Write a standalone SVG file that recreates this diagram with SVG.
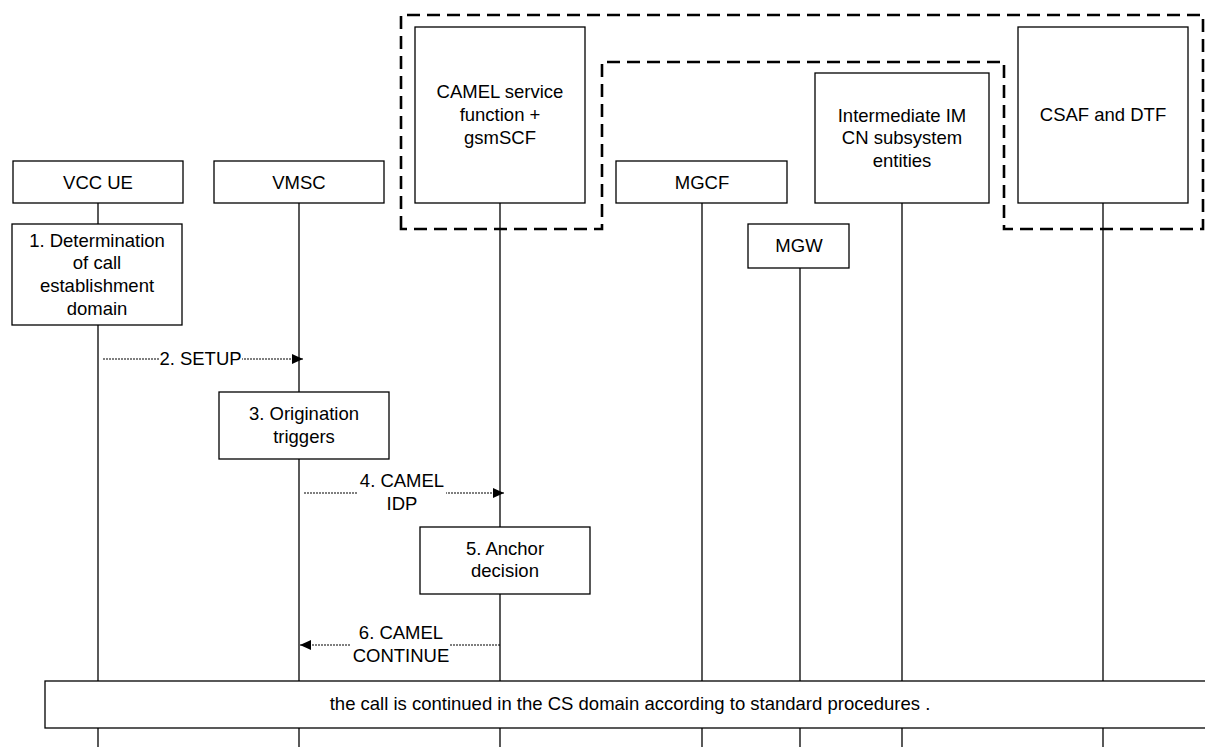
<svg xmlns="http://www.w3.org/2000/svg" width="1205" height="747" viewBox="0 0 1205 747">
<defs>
<style>
.box{fill:#fff;stroke:#000;stroke-width:1.3}
.life{stroke:#000;stroke-width:1.3;fill:none}
.msg{stroke:#000;stroke-width:1.2;stroke-dasharray:2 1;fill:none}
.grp{fill:none;stroke:#000;stroke-width:2.6;stroke-dasharray:13 7}
text{font-family:"Liberation Sans",Arial,sans-serif;font-size:18.5px;fill:#000;text-anchor:middle}
</style>
<marker id="ah" markerWidth="11" markerHeight="10" refX="11" refY="5" orient="auto" markerUnits="userSpaceOnUse">
<path d="M0,0 L11,5 L0,10 Z" fill="#000"/>
</marker>
</defs>
<rect width="1205" height="747" fill="#fff"/>
<g id="lifelines">
<line class="life" x1="98" y1="203" x2="98" y2="747"/>
<line class="life" x1="299" y1="203" x2="299" y2="747"/>
<line class="life" x1="500" y1="203" x2="500" y2="747"/>
<line class="life" x1="702" y1="203" x2="702" y2="747"/>
<line class="life" x1="800" y1="268" x2="800" y2="747"/>
<line class="life" x1="902" y1="203" x2="902" y2="747"/>
<line class="life" x1="1103" y1="203" x2="1103" y2="747"/>
</g>
<g id="group-border">
<path class="grp" d="M401,229 L401,15 L1203,15 L1203,229 L1004,229 L1004,62 L602,62 L602,229 Z"/>
</g>
<g id="vccue"><rect class="box" x="13" y="161" width="170" height="42"/><text x="98" y="189">VCC UE</text></g>
<g id="vmsc"><rect class="box" x="214" y="161" width="170" height="42"/><text x="299" y="189">VMSC</text></g>
<g id="camel"><rect class="box" x="415" y="27" width="170" height="176"/><text x="500" y="98">CAMEL service</text><text x="500" y="121">function +</text><text x="500" y="144">gsmSCF</text></g>
<g id="mgcf"><rect class="box" x="616" y="161" width="171" height="42"/><text x="702" y="189">MGCF</text></g>
<g id="imcn"><rect class="box" x="815" y="73" width="174" height="130"/><text x="902" y="122">Intermediate IM</text><text x="902" y="144">CN subsystem</text><text x="902" y="167">entities</text></g>
<g id="csaf"><rect class="box" x="1018" y="27" width="170" height="176"/><text x="1103" y="121">CSAF and DTF</text></g>
<g id="mgw"><rect class="box" x="748" y="224" width="101" height="44"/><text x="799" y="252">MGW</text></g>
<g id="step1"><rect class="box" x="12" y="224" width="170" height="101"/><text x="97" y="247">1. Determination</text><text x="97" y="269">of call</text><text x="97" y="292">establishment</text><text x="97" y="315">domain</text></g>
<g id="step3"><rect class="box" x="219" y="392" width="170" height="67"/><text x="304" y="420">3. Origination</text><text x="304" y="443">triggers</text></g>
<g id="step5"><rect class="box" x="420" y="527" width="170" height="67"/><text x="505" y="555">5. Anchor</text><text x="505" y="577">decision</text></g>
<g id="connectors">
<line class="msg" x1="103" y1="359" x2="303" y2="359" marker-end="url(#ah)"/>
<rect x="159" y="350" width="83" height="18" fill="#fff"/>
<text x="200.5" y="365">2. SETUP</text>
<line class="msg" x1="304" y1="493" x2="504" y2="493" marker-end="url(#ah)"/>
<rect x="358" y="472" width="88" height="42" fill="#fff"/>
<text x="402" y="487">4. CAMEL</text><text x="402" y="510">IDP</text>
<line class="msg" x1="500" y1="645" x2="300" y2="645" marker-end="url(#ah)"/>
<rect x="351" y="625" width="99" height="42" fill="#fff"/>
<text x="401" y="639">6. CAMEL</text><text x="401" y="662">CONTINUE</text>
</g>
<g id="cs-domain"><rect class="box" x="45" y="681" width="1170" height="47"/><text x="630" y="710">the call is continued in the CS domain according to standard procedures .</text></g>
</svg>
